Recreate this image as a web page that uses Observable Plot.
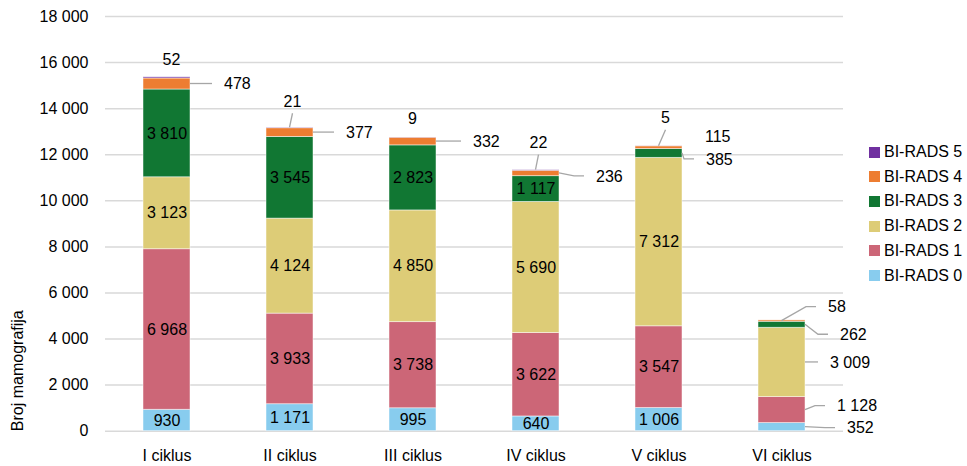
<!DOCTYPE html>
<html><head><meta charset="utf-8">
<script src="https://cdn.jsdelivr.net/npm/d3@7"></script>
<script src="https://cdn.jsdelivr.net/npm/@observablehq/plot@0.6"></script>
<style>
body{margin:0;background:#fff;font-family:"Liberation Sans",Arial,sans-serif;}
#wrap{position:relative;width:967px;height:466px;overflow:hidden;}
#wrap svg{position:absolute;left:0;top:0;}
#legend{position:absolute;left:869px;top:0;width:98px;height:466px;}
.item{position:absolute;left:0;white-space:nowrap;font-size:16px;line-height:16px;color:#000;display:flex;align-items:center;}
.sw{width:11px;height:11px;margin-right:4px;flex:none;}
</style></head><body><div id="wrap"></div>
<script>
// ---- data ----
const cycles = ["I ciklus","II ciklus","III ciklus","IV ciklus","V ciklus","VI ciklus"];
const categories = ["BI-RADS 0","BI-RADS 1","BI-RADS 2","BI-RADS 3","BI-RADS 4","BI-RADS 5"];
const colors = ["#88ccee","#cc6677","#ddcc77","#117733","#ed7d31","#7030a0"];
const birads0 = [930, 1171, 995, 640, 1006, 352];
const birads1 = [6968, 3933, 3738, 3622, 3547, 1128];
const birads2 = [3123, 4124, 4850, 5690, 7312, 3009];
const birads3 = [3810, 3545, 2823, 1117, 385, 262];
const birads4 = [478, 377, 332, 236, 115, 58];
const birads5 = [52, 21, 9, 22, 5, 0];
const yTicks = [0, 2000, 4000, 6000, 8000, 10000, 12000, 14000, 16000, 18000];

// ---- label placement (pixel offsets, layout only) ----
// side: text starts dx px right of bar edge, dy px from segment middle
// top: text centred dx px from bar centre, dy px from bar top
const outsideLabels = [
  {cycle:"I ciklus",  cat:"BI-RADS 5", kind:"top",  dx:5, dy:-17, leader:false},
  {cycle:"I ciklus",  cat:"BI-RADS 4", kind:"side", from:"edge", dx:34, dy:0, leader:true},
  {cycle:"II ciklus", cat:"BI-RADS 5", kind:"top",  dx:3, dy:-26, leader:true},
  {cycle:"II ciklus", cat:"BI-RADS 4", kind:"side", from:"edge", dx:33, dy:0, leader:true},
  {cycle:"III ciklus",cat:"BI-RADS 5", kind:"top",  dx:0, dy:-19, leader:false},
  {cycle:"III ciklus",cat:"BI-RADS 4", kind:"side", from:"edge", dx:37, dy:0, leader:true},
  {cycle:"IV ciklus", cat:"BI-RADS 5", kind:"top",  dx:3, dy:-27, leader:true},
  {cycle:"IV ciklus", cat:"BI-RADS 4", kind:"side", from:"edge", dx:37, dy:3, leader:true},
  {cycle:"V ciklus",  cat:"BI-RADS 5", kind:"top",  dx:7, dy:-28, leader:true},
  {cycle:"V ciklus",  cat:"BI-RADS 4", kind:"side", from:"edge", dx:23, dy:-11, leader:false},
  {cycle:"V ciklus",  cat:"BI-RADS 3", kind:"side", from:"edge", dx:24, dy:6, leader:true},
  {cycle:"VI ciklus", cat:"BI-RADS 4", kind:"side", from:"center", dx:23, dy:-14, leader:true},
  {cycle:"VI ciklus", cat:"BI-RADS 3", kind:"side", from:"edge", dx:35, dy:10, leader:true},
  {cycle:"VI ciklus", cat:"BI-RADS 2", kind:"side", from:"edge", dx:25, dy:0, leader:true},
  {cycle:"VI ciklus", cat:"BI-RADS 1", kind:"side", from:"edge", dx:32, dy:-4, leader:true},
  {cycle:"VI ciklus", cat:"BI-RADS 0", kind:"side", from:"edge", dx:42, dy:1, leader:true}
];

const series = [birads0, birads1, birads2, birads3, birads4, birads5];
const fmt = v => d3.format(",")(v).replace(/,/g, " ");

// build stacked rows
const rows = [];
cycles.forEach((c, i) => {
  let acc = 0;
  categories.forEach((cat, j) => {
    const v = series[j][i];
    rows.push({cycle: c, cat, value: v, y1: acc, y2: acc + v, total: 0});
    acc += v;
  });
  rows.filter(r => r.cycle === c).forEach(r => r.total = acc);
});
const isOutside = r => outsideLabels.some(L => L.cycle === r.cycle && L.cat === r.cat);
const insideRows = rows.filter(r => r.value > 0 && !isOutside(r) && !(r.cat === "BI-RADS 5"));

function outsideMark(index, scales) {
  const x = scales.x, y = scales.y;
  const bw = typeof x.bandwidth === "function" ? x.bandwidth() : x.bandwidth;
  const g = d3.create("svg:g");
  for (const L of outsideLabels) {
    const r = rows.find(d => d.cycle === L.cycle && d.cat === L.cat);
    const x0 = x(L.cycle), xc = x0 + bw / 2, xr = x0 + bw;
    if (L.kind === "top") {
      const yt = y(r.total);
      const tx = xc + L.dx, ty = yt + L.dy;
      if (L.leader) {
        g.append("path").attr("d", `M${xc},${yt}L${tx},${ty + 12}`)
          .attr("stroke", "#a6a6a6").attr("stroke-width", 1.3).attr("fill", "none");
      }
      g.append("text").attr("x", tx).attr("y", ty).attr("dy", "0.35em")
        .attr("text-anchor", "middle").attr("font-size", 16).attr("fill", "#000").text(fmt(r.value));
    } else {
      const ym = y((r.y1 + r.y2) / 2);
      const tx = xr + L.dx, ty = ym + L.dy;
      const ax = L.from === "center" ? xc : xr;
      if (L.leader) {
        const end = tx - 12, elbow = Math.max(end - 10, ax);
        g.append("path").attr("d", `M${ax},${ym}L${elbow},${ty}L${end},${ty}`)
          .attr("stroke", "#a6a6a6").attr("stroke-width", 1.3).attr("fill", "none");
      }
      g.append("text").attr("x", tx).attr("y", ty).attr("dy", "0.35em")
        .attr("text-anchor", "start").attr("font-size", 16).attr("fill", "#000").text(fmt(r.value));
    }
  }
  return g.node();
}

const chart = Plot.plot({
  width: 967,
  height: 466,
  marginLeft: 105,
  marginRight: 124,
  marginTop: 16,
  marginBottom: 35.3,
  style: {fontFamily: '"Liberation Sans", Arial, sans-serif', fontSize: "16px", color: "#000", background: "transparent"},
  x: {domain: cycles, paddingInner: 0.62, paddingOuter: 0.31},
  y: {domain: [0, 18000]},
  color: {domain: categories, range: colors},
  marks: [
    Plot.gridY(yTicks, {stroke: "#d9d9d9", strokeOpacity: 1, strokeWidth: 1.5}),
    Plot.axisY(yTicks, {tickSize: 0, tickPadding: 17, tickFormat: fmt, label: null, fontSize: 16}),
    Plot.axisX({tickSize: 0, tickPadding: 18, label: null, fontSize: 16}),
    Plot.text(["Broj mamografija"], {frameAnchor: "bottom-left", rotate: -90, textAnchor: "start", dx: -83, fontSize: 16, fill: "#000"}),
    Plot.barY(rows, {x: "cycle", y1: "y1", y2: "y2", fill: "cat", stroke: "#fff", strokeWidth: 0.8, strokeOpacity: 0.6}),
    Plot.text(insideRows, {x: "cycle", y: d => (d.y1 + d.y2) / 2, text: d => fmt(d.value), fill: "#000", fontSize: 16}),
    outsideMark
  ]
});

const wrap = document.getElementById("wrap");
wrap.appendChild(chart);

// legend (right side)
const legend = document.createElement("div");
legend.id = "legend";
const order = categories.map((c, i) => ({c, col: colors[i]})).reverse();
order.forEach((o, k) => {
  const it = document.createElement("div");
  it.className = "item";
  it.style.top = (152 + 24.7 * k - 8) + "px";
  const sw = document.createElement("span");
  sw.className = "sw";
  sw.style.background = o.col;
  const tx = document.createElement("span");
  tx.textContent = o.c;
  it.appendChild(sw); it.appendChild(tx);
  legend.appendChild(it);
});
wrap.appendChild(legend);
</script>
</body></html>
